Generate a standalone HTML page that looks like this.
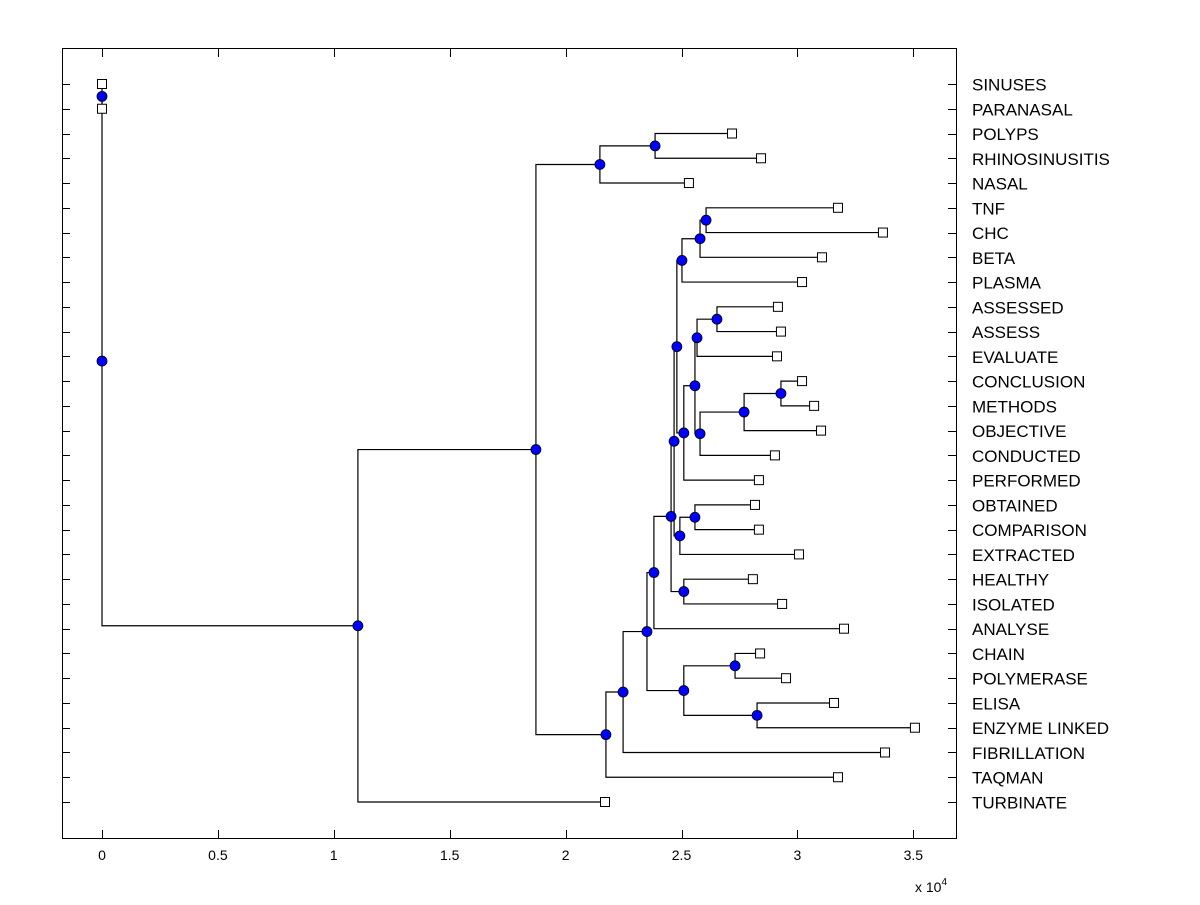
<!DOCTYPE html>
<html><head><meta charset="utf-8"><style>
html,body{margin:0;padding:0;background:#fff;}
svg text{font-family:"Liberation Sans",Arial,sans-serif;fill:#000;}
</style></head><body>
<svg id="chart" width="1200" height="900" viewBox="0 0 1200 900" xmlns="http://www.w3.org/2000/svg">
<rect x="0" y="0" width="1200" height="900" fill="#fff"/>
<rect x="62.5" y="48.5" width="894" height="790" fill="none" stroke="#000" stroke-width="1"/>
<g id="ticks"></g>
<g id="links"></g>
<g id="marks"></g>
<g id="labels"></g>
<text x="915" y="892" font-size="14">x 10<tspan dy="-7" font-size="10">4</tspan></text>
</svg>
<script>
const leafLabels = ["SINUSES","PARANASAL","POLYPS","RHINOSINUSITIS","NASAL","TNF","CHC","BETA","PLASMA","ASSESSED","ASSESS","EVALUATE","CONCLUSION","METHODS","OBJECTIVE","CONDUCTED","PERFORMED","OBTAINED","COMPARISON","EXTRACTED","HEALTHY","ISOLATED","ANALYSE","CHAIN","POLYMERASE","ELISA","ENZYME LINKED","FIBRILLATION","TAQMAN","TURBINATE"];
const leafValues = [0,0,2.718,2.843,2.532,3.175,3.369,3.106,3.020,2.916,2.929,2.912,3.020,3.072,3.102,2.903,2.834,2.817,2.834,3.007,2.808,2.934,3.201,2.839,2.951,3.158,3.507,3.378,3.175,2.170];
const mergeLeft  = [0,2,31,5,33,34,9,36,12,38,39,37,41,35,17,44,43,20,46,48,23,25,50,49,53,54,32,56,30];
const mergeRight = [1,3,4,6,7,8,10,11,13,14,15,40,16,42,18,19,45,21,47,22,24,26,51,52,27,28,55,29,57];
const mergeHeight= [0,2.386,2.148,2.606,2.580,2.502,2.653,2.567,2.929,2.770,2.580,2.558,2.510,2.480,2.558,2.493,2.468,2.510,2.455,2.381,2.731,2.826,2.510,2.351,2.248,2.174,1.872,1.104,0];
const xTicks = [0,0.5,1,1.5,2,2.5,3,3.5];
const xTickLabels = ["0","0.5","1","1.5","2","2.5","3","3.5"];

const NS="http://www.w3.org/2000/svg";
const xs = v => 102 + v*231.8;
const n = leafLabels.length;
const ys = i => 84 + i*(802-84)/(n-1);
function mk(tag, attrs, parent){const e=document.createElementNS(NS,tag);for(const k in attrs)e.setAttribute(k,attrs[k]);parent.appendChild(e);return e;}
const gT=document.getElementById('ticks'),gL=document.getElementById('links'),gM=document.getElementById('marks'),gLab=document.getElementById('labels');

xTicks.forEach((t,i)=>{
  const x=Math.round(xs(t))+0.5;
  let e=mk('line',{x1:x,x2:x,y1:838,y2:830,stroke:'#000'},gT);
  
  
  e=mk('line',{x1:x,x2:x,y1:49,y2:57,stroke:'#000'},gT);
  
  
  e=mk('text',{x:xs(t),y:860,'font-size':14,'text-anchor':'middle'},gT);
  e.textContent=xTickLabels[i];
  
  
});

const nodeX=[],nodeY=[];
for(let i=0;i<n;i++){nodeX.push(xs(leafValues[i]));nodeY.push(ys(i));}
mergeHeight.forEach((h,k)=>{
  const a=mergeLeft[k],b=mergeRight[k];
  nodeX.push(xs(h));nodeY.push((nodeY[a]+nodeY[b])/2);
});

for(let i=0;i<n;i++){
  const y=Math.round(ys(i))+0.5;
  let e=mk('line',{x1:62,x2:70,y1:y,y2:y,stroke:'#000'},gT);
  
  
  e=mk('line',{x1:956,x2:948,y1:y,y2:y,stroke:'#000'},gT);
  
  
  e=mk('text',{x:972,y:ys(i)+6.5,'font-size':17},gLab);
  e.textContent=leafLabels[i];
  
  
}

mergeHeight.forEach((h,k)=>{
  const a=mergeLeft[k],b=mergeRight[k];
  const x=xs(h);
  const pts=`${nodeX[a]},${nodeY[a]} ${x},${nodeY[a]} ${x},${nodeY[b]} ${nodeX[b]},${nodeY[b]}`;
  const e=mk('polyline',{points:pts,fill:'none',stroke:'#000','stroke-width':1.2},gL);
  
  
});

for(let i=0;i<n;i++){
  const e=mk('rect',{x:nodeX[i]-4.5,y:nodeY[i]-4.5,width:9,height:9,fill:'#fff',stroke:'#000','stroke-width':1},gM);
  
  
}
for(let k=0;k<mergeHeight.length;k++){
  const e=mk('circle',{cx:nodeX[n+k],cy:nodeY[n+k],r:5,fill:'#0000ff',stroke:'#000','stroke-width':0.8},gM);
  
  
}
</script>
</body></html>
